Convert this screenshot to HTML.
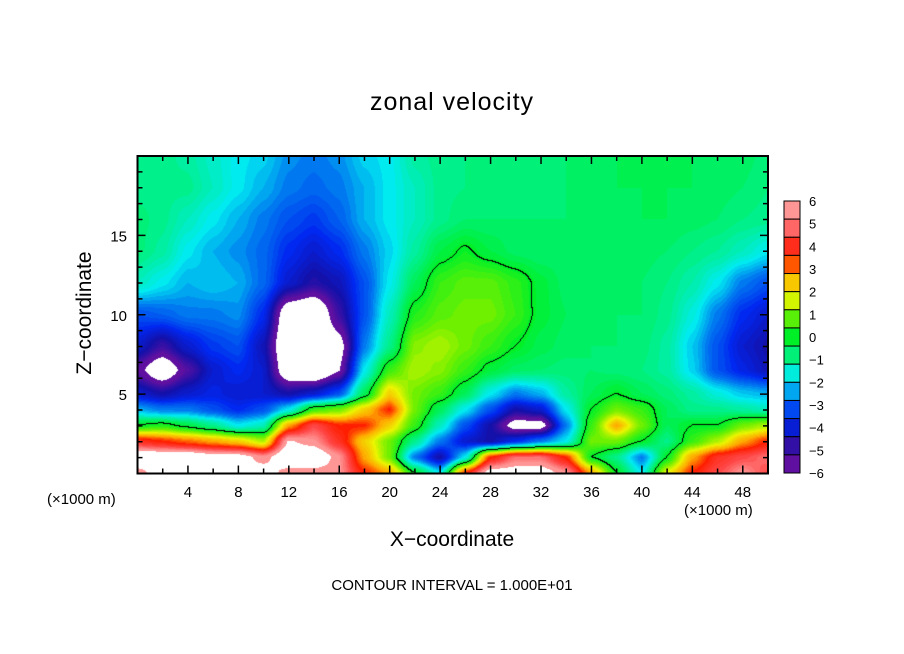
<!DOCTYPE html>
<html><head><meta charset="utf-8"><style>
body{margin:0;background:#fff;}
#wrap{position:relative;width:904px;height:654px;font-family:"Liberation Sans",sans-serif;color:#000;overflow:hidden}
.t{position:absolute;white-space:nowrap}
</style></head><body>
<div id="wrap">
<div class="t" style="left:0;width:904px;text-align:center;top:88px;font-size:25px;letter-spacing:1px">zonal velocity</div>
<canvas id="cv" width="631" height="317" style="position:absolute;left:137px;top:156px"></canvas>
<svg id="sv" width="904" height="654" style="position:absolute;left:0;top:0"></svg>
<div class="t" style="left:85px;top:313px;font-size:21px;transform:translate(-50%,-50%) rotate(-90deg)">Z−coordinate</div>
<div class="t" style="left:0;width:904px;text-align:center;top:528px;font-size:21px">X−coordinate</div>
<div class="t" style="left:47px;top:491px;font-size:15px">(×1000 m)</div>
<div class="t" style="left:684px;top:502px;font-size:15px">(×1000 m)</div>
<div class="t" style="left:0;width:904px;text-align:center;top:577px;font-size:15px">CONTOUR INTERVAL = 1.000E+01</div>
</div>
<script>
const xs=[0,2,4,6,8,10,12,14,16,18,20,22,24,26,28,30,32,34,36,38,40,42,44,46,48,50];
const zs=[0,1,2,3,4,5,6.5,8,10,12,14,16,18,20];
const U=[
[6,7,7,7,7,7,6,6,6,4,3,0,-2,4,7,7,7,6,3,0,-2,2,4,5,6,5],
[7.5,7.5,7.5,7,7,6,7.5,7.5,6,3,1,-3,-5,-2,4,5.5,5.5,4,0,-1,-3,0,3,4.5,5,5.5],
[4.5,4,3.5,3,2.5,1.5,6.5,6,4.5,2.5,1,-1,-3,-4.5,-5,-4,-3,-2,1,1,0,-1,0.5,1.5,3,4],
[0,0.3,-0.3,-1,-2,-1.5,3,5,4,4,2.5,0.5,-1.5,-3.5,-5,-7,-7,-3,0.5,3,1,-0.5,0,0,1,1.5],
[-2.5,-3,-3,-3.5,-4,-3.5,-2,0.5,1,2.5,4,1,-0.5,-2,-3.5,-5,-4.5,-2,0,1,0.5,-0.5,-1,-1,-1.2,-1.5],
[-4.5,-5,-4.5,-4.2,-4.5,-4.5,-5,-4.5,-3.5,-0.5,2.5,1,0.5,-0.5,-2,-3,-2.5,-1.2,-0.5,0,-0.5,-0.8,-1.2,-1.8,-2.3,-2.5],
[-6,-7.5,-5.8,-4.5,-4,-4.5,-7.5,-8,-6.5,-2,0.5,1.5,1.2,0.5,-0.2,-0.6,-0.7,-0.8,-0.7,-0.8,-0.9,-1.2,-2.2,-3.5,-4.2,-4.8],
[-4.5,-5.5,-4.5,-3.8,-3.5,-4.8,-8,-8.5,-7,-3,-1,1.2,1.5,1,0.5,0,-0.4,-0.6,-0.7,-0.7,-0.8,-1.2,-2.3,-3.5,-4.5,-5],
[-3.5,-3.3,-3,-3,-2.8,-4,-7.5,-8,-5.5,-3.5,-1.5,0.3,0.8,1,1,0.5,-0.2,-0.5,-0.7,-0.7,-0.7,-1,-1.8,-3,-4,-4.5],
[-1.5,-2,-2.5,-2.3,-2.5,-3.2,-4.5,-5.2,-4.8,-3.5,-2,-0.5,0.5,0.8,0.8,0.4,-0.2,-0.6,-0.7,-0.7,-0.7,-0.9,-1.3,-2,-3,-3.5],
[-0.8,-1.2,-2,-2.5,-2.8,-3.2,-4,-4.5,-4,-3,-2.2,-1.2,-0.3,0.1,-0.3,-0.6,-0.7,-0.7,-0.7,-0.6,-0.6,-0.7,-0.9,-1.1,-1.5,-2],
[-0.8,-1,-1.5,-2,-2.5,-3,-3.5,-3.8,-3.3,-2.5,-2,-1.5,-1,-0.7,-0.7,-0.7,-0.7,-0.7,-0.6,-0.6,-0.5,-0.5,-0.6,-0.7,-0.9,-1],
[-1,-1,-1,-1.5,-2,-2.5,-3,-3.2,-3,-2.5,-2,-1.5,-1,-0.9,-0.8,-0.8,-0.8,-0.7,-0.6,-0.5,-0.5,-0.5,-0.5,-0.6,-0.7,-0.9],
[-1,-1,-1.2,-1.6,-2,-2.2,-2.8,-3,-2.8,-2.2,-2,-1.2,-1,-0.9,-0.8,-0.8,-0.8,-0.7,-0.6,-0.5,-0.5,-0.5,-0.5,-0.5,-0.6,-0.8]
];
const cbLabels=["6","5","4","3","2","1","0","−1","−2","−3","−4","−5","−6"];
const xTicks=[4,8,12,16,20,24,28,32,36,40,44,48];
const yTicks=[5,10,15];
const X0=137.5,X1=768,Y0=473.5,Y1=156;
const sx=x=>X0+(x-0)/(50-0)*(X1-X0);
const sy=z=>Y0-(z-0)/(20-0)*(Y0-Y1);
const stops=[[-6,[96,16,160]],[-5,[20,16,170]],[-4,[0,40,240]],[-3,[0,120,240]],[-2,[0,235,240]],[-1,[0,240,140]],[0,[0,240,40]],[1,[110,240,0]],[2,[235,245,0]],[3,[255,170,0]],[4,[255,30,0]],[5,[255,70,70]],[6,[255,150,150]]];
function col(v){
  if(v>6.4||v<-6.4)return[255,255,255];
  v=Math.max(-6,Math.min(6,Math.round(v*5)/5));
  for(let i=0;i<stops.length-1;i++){if(v<=stops[i+1][0]){const t=(v-stops[i][0]);const a=stops[i][1],b=stops[i+1][1];return[0,1,2].map(k=>Math.round(a[k]+(b[k]-a[k])*t));}}
  return stops[stops.length-1][1];
}
function idx(arr,v){let i=0;while(i<arr.length-2&&v>arr[i+1])i++;return[i,(v-arr[i])/(arr[i+1]-arr[i])];}
function sm(t){return t*t*(3-2*t);}
function val(x,z){const[i,fx0]=idx(xs,x),[j,fz0]=idx(zs,z);const fx=0.5*fx0+0.5*sm(fx0),fz=0.5*fz0+0.5*sm(fz0);
  const a=U[j][i],b=U[j][i+1],c=U[j+1][i],d=U[j+1][i+1];
  return (a*(1-fx)+b*fx)*(1-fz)+(c*(1-fx)+d*fx)*fz;}
const cv=document.getElementById('cv'),ctx=cv.getContext('2d');
const W=cv.width,H=cv.height,img=ctx.createImageData(W,H);
const V=new Float32Array(W*H);
for(let py=0;py<H;py++)for(let px=0;px<W;px++){V[py*W+px]=val((px+0.5)/W*50,(H-py-0.5)/H*20);}
for(let py=0;py<H;py++)for(let px=0;px<W;px++){
  const v=V[py*W+px];let c=col(v);
  if(px<W-1&&py<H-1){const r=V[py*W+px+1],dn=V[(py+1)*W+px];if((v>0)!=(r>0)||(v>0)!=(dn>0))c=[0,0,0];}
  const o=(py*W+px)*4;img.data[o]=c[0];img.data[o+1]=c[1];img.data[o+2]=c[2];img.data[o+3]=255;}
ctx.putImageData(img,0,0);
const sv=document.getElementById('sv');const NS='http://www.w3.org/2000/svg';
function mk(t,at,p){const e=document.createElementNS(NS,t);for(const k in at)e.setAttribute(k,at[k]);(p||sv).appendChild(e);return e;}
const frame=mk('rect',{x:X0,y:Y1,width:X1-X0,height:Y0-Y1,fill:'none',stroke:'#000','stroke-width':2});


for(let x=2;x<50;x+=2){const L=(x%4==0)?8:5;
  mk('line',{x1:sx(x),x2:sx(x),y1:Y0,y2:Y0-L,stroke:'#000','stroke-width':1.5});
  mk('line',{x1:sx(x),x2:sx(x),y1:Y1,y2:Y1+L,stroke:'#000','stroke-width':1.5});}
for(let z=1;z<20;z++){const L=(z%5==0)?8:5;
  mk('line',{x1:X0,x2:X0+L,y1:sy(z),y2:sy(z),stroke:'#000','stroke-width':1.5});
  mk('line',{x1:X1,x2:X1-L,y1:sy(z),y2:sy(z),stroke:'#000','stroke-width':1.5});}
xTicks.forEach(x=>{const t=mk('text',{x:sx(x),y:497,'text-anchor':'middle','font-size':15,'font-family':'Liberation Sans'});t.textContent=x;
  
  });
yTicks.forEach(z=>{const t=mk('text',{x:127,y:sy(z)+6,'text-anchor':'end','font-size':15,'font-family':'Liberation Sans'});t.textContent=z;
  
  });
const CT=201,CB=473,CX=784,CW=16;const n=cbLabels.length;const step=(CB-CT)/(n-1);
const nb=15;const bh=(CB-CT)/nb;
for(let i=0;i<nb;i++){const v=6.2-i*(12.4/(nb-1));const c=col(Math.max(-6,Math.min(6,v)));
  const r=mk('rect',{x:CX,y:CT+i*bh,width:CW,height:bh,fill:`rgb(${c})`,stroke:'#000','stroke-width':1});
  
  }
cbLabels.forEach((l,i)=>{const t=mk('text',{x:809,y:CT+i*step+5,'font-size':13,'font-family':'Liberation Sans'});t.textContent=l;
  
  });
</script>
</body></html>
